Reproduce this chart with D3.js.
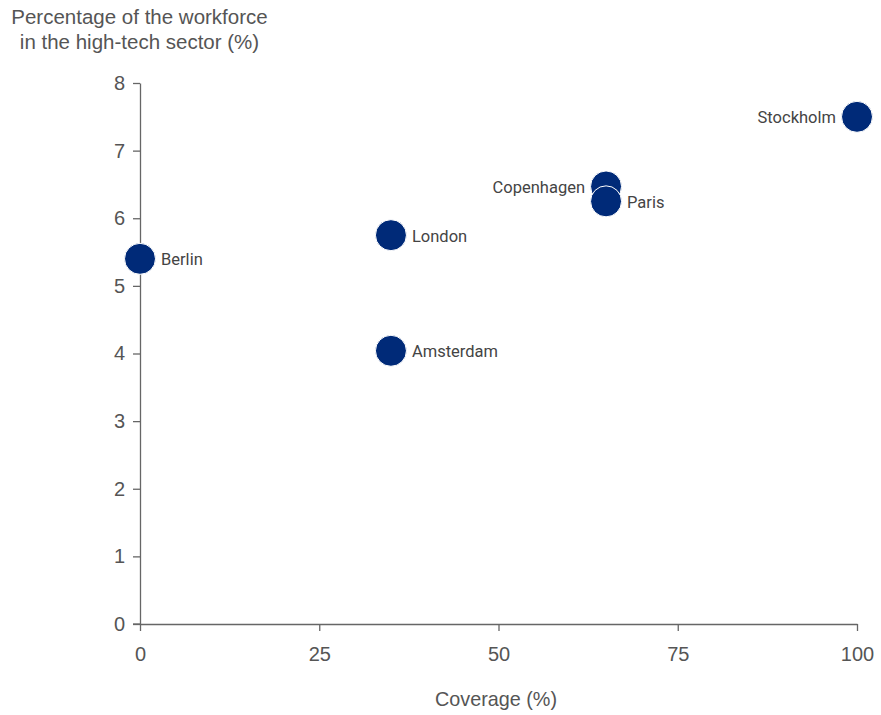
<!DOCTYPE html>
<html><head><meta charset="utf-8">
<script src="https://cdn.jsdelivr.net/npm/d3@7"></script>
<style>
body{margin:0;background:#fff;}
svg{font-family:"Liberation Sans",Arial,sans-serif;}
</style></head>
<body><svg id="c" width="881" height="715"></svg>
<script>
const cities = ["Stockholm","Copenhagen","Paris","London","Berlin","Amsterdam"];
const coverage = [100, 65, 65, 35, 0, 35];
const hightech = [7.5, 6.47, 6.25, 5.75, 5.4, 4.04];
const labelSide = ["left","left","right","right","right","right"];
const xTicks = [0, 25, 50, 75, 100];
const yTicks = [0, 1, 2, 3, 4, 5, 6, 7, 8];

const svg = d3.select("#c");
const x = d3.scaleLinear().domain([0,100]).range([140,857]);
const y = d3.scaleLinear().domain([0,8]).range([624,83]);
const textCol = "#555";
const axisCol = "#666";

const xa = svg.append("g").attr("transform","translate(0,624)")
  .call(d3.axisBottom(x).tickValues(xTicks).tickSize(7).tickPadding(16).tickSizeOuter(0));
const ya = svg.append("g").attr("transform","translate(140,0)")
  .call(d3.axisLeft(y).tickValues(yTicks).tickSize(7).tickPadding(8).tickSizeOuter(0));
[xa,ya].forEach(a=>{
  a.select(".domain").attr("stroke",axisCol).attr("stroke-width",1.3);
  a.selectAll(".tick line").attr("stroke",axisCol).attr("stroke-width",1.3);
  a.selectAll(".tick text").attr("fill",textCol).attr("font-size",20)
   .attr("font-family","'Liberation Sans',Arial,sans-serif");
});
svg.append("line").attr("x1",133).attr("x2",140).attr("y1",624).attr("y2",624)
  .attr("stroke",axisCol).attr("stroke-width",1.3);

svg.append("text").attr("x",139.5).attr("y",24).attr("text-anchor","middle")
  .attr("fill",textCol).attr("font-size",20.5).text("Percentage of the workforce");
svg.append("text").attr("x",139.5).attr("y",49).attr("text-anchor","middle")
  .attr("fill",textCol).attr("font-size",20.5).text("in the high-tech sector (%)");
svg.append("text").attr("x",496).attr("y",706).attr("text-anchor","middle")
  .attr("fill",textCol).attr("font-size",19.8).text("Coverage (%)");

const data = cities.map((c,i)=>({c, xv:coverage[i], yv:hightech[i], side:labelSide[i]}));
const g = svg.append("g");
g.selectAll("circle").data(data).join("circle")
  .attr("cx",d=>x(d.xv)).attr("cy",d=>y(d.yv)).attr("r",15.5)
  .attr("fill","#002a78").attr("stroke","#fff").attr("stroke-width",1);
g.selectAll("text").data(data).join("text")
  .attr("x",d=>x(d.xv)+(d.side==="left"?-21:21))
  .attr("y",d=>y(d.yv)+6.5)
  .attr("text-anchor",d=>d.side==="left"?"end":"start")
  .attr("fill","#444").attr("font-size",16.5)
  .attr("font-family","Roboto,'Liberation Sans',sans-serif")
  .text(d=>d.c);
</script></body></html>
